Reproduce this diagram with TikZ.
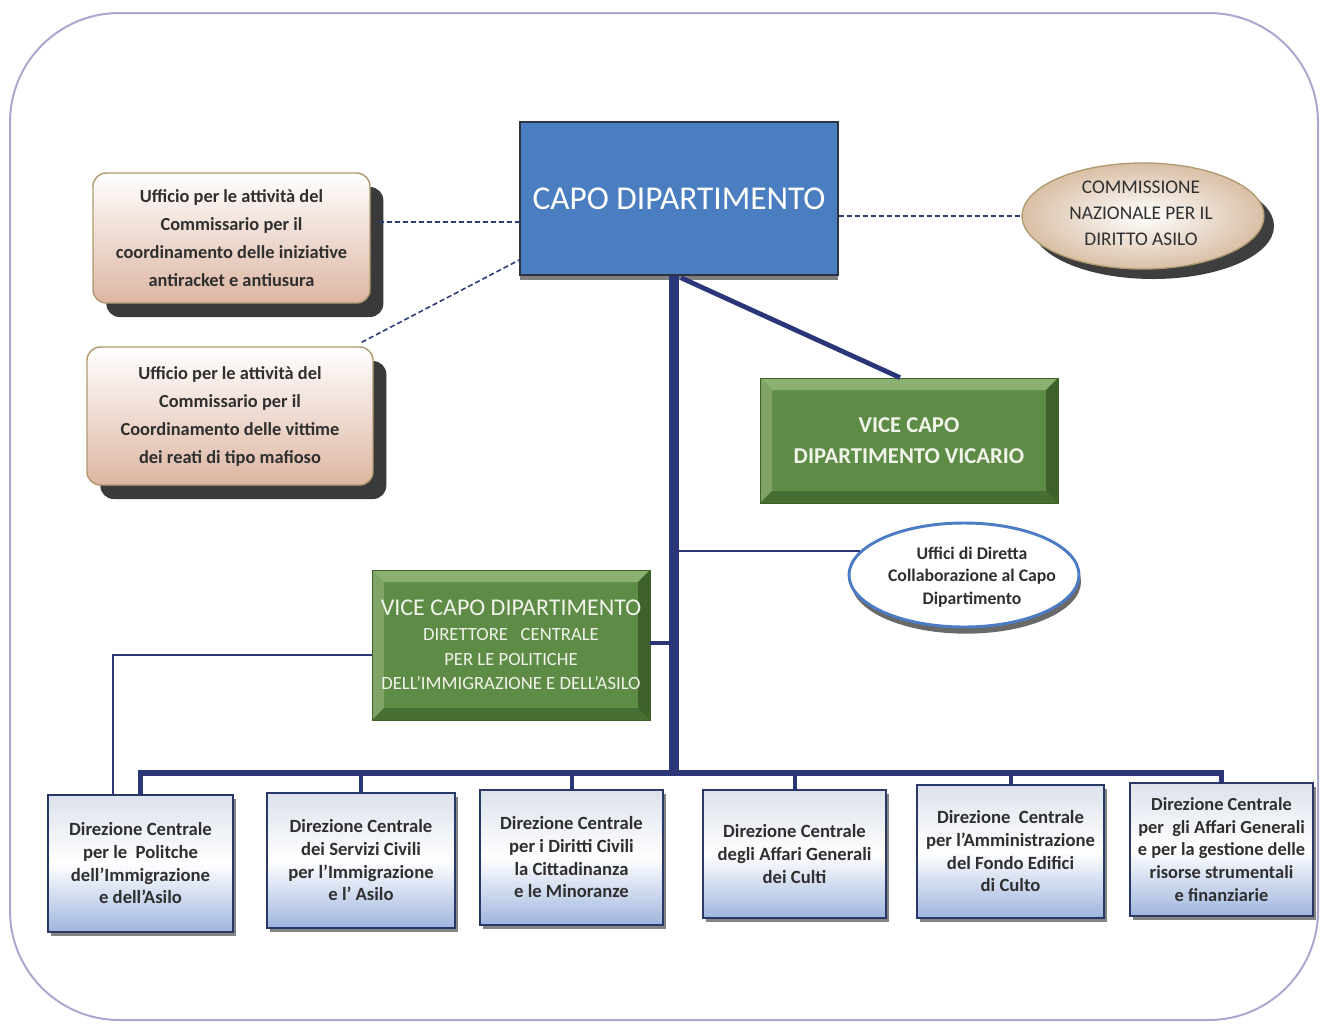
\documentclass[tikz,border=0pt]{standalone}
\usepackage{fontspec}
\setmainfont{Carlito}
\usetikzlibrary{shapes.geometric,shadows,calc}
\definecolor{framec}{HTML}{A9A9CF}
\definecolor{capoblue}{HTML}{4B7EC1}
\definecolor{capob}{HTML}{2D3640}
\definecolor{navy}{HTML}{2A3678}
\definecolor{dashc}{HTML}{2E3C7A}
\definecolor{tanb}{HTML}{B09A70}
\definecolor{peach}{HTML}{DDB6A2}
\definecolor{peachb}{HTML}{D9BFA6}
\definecolor{shad}{HTML}{2A2A2A}
\definecolor{txtc}{HTML}{2F2F2F}
\definecolor{greenc}{HTML}{5E8C46}
\definecolor{glight}{HTML}{8BB072}
\definecolor{gleft}{HTML}{7FA466}
\definecolor{gdark}{HTML}{476F33}
\definecolor{gright}{HTML}{3E6229}
\definecolor{gtext}{HTML}{F0F4EA}
\definecolor{uffb}{HTML}{4C7CC4}
\definecolor{boxb}{HTML}{2A3868}
\definecolor{boxblue}{HTML}{9FB5DE}
\definecolor{boxtop}{HTML}{DCE2EC}
\begin{document}
\begin{tikzpicture}[x=0.75pt,y=-0.75pt,
  sz/.style 2 args={minimum width=#1, minimum height=#2},
  ubox/.style={draw=tanb, line width=1.1pt, rounded corners=10pt, top color=white, bottom color=peach,
    inner sep=0pt, drop shadow={shadow xshift=10pt, shadow yshift=-10.5pt, fill=shad, opacity=0.92},
    text=txtc, align=center, font=\fontsize{13.8}{21}\selectfont\bfseries},
  capobox/.style={fill=capoblue, draw=capob, line width=1.2pt, inner sep=0pt,
    drop shadow={shadow xshift=0pt, shadow yshift=-3.5pt, fill=black!55, opacity=0.9},
    text=white, font=\fontsize{25}{29}\selectfont},
  gbox/.style={fill=greenc, draw=gright, line width=0.6pt, inner sep=0pt, text=gtext, align=center,
    path picture={
      \coordinate (pnw) at (path picture bounding box.north west);
      \coordinate (pne) at (path picture bounding box.north east);
      \coordinate (psw) at (path picture bounding box.south west);
      \coordinate (pse) at (path picture bounding box.south east);
      \fill[glight] (pnw) -- (pne) -- ([shift={(-9pt,-9pt)}]pne) -- ([shift={(9pt,-9pt)}]pnw) -- cycle;
      \fill[gleft] (pnw) -- (psw) -- ([shift={(9pt,9pt)}]psw) -- ([shift={(9pt,-9pt)}]pnw) -- cycle;
      \fill[gdark] (psw) -- (pse) -- ([shift={(-9pt,9pt)}]pse) -- ([shift={(9pt,9pt)}]psw) -- cycle;
      \fill[gright] (pne) -- (pse) -- ([shift={(-9pt,9pt)}]pse) -- ([shift={(-9pt,-9pt)}]pne) -- cycle;
    }},
  dbox/.style={draw=boxb, line width=2pt, top color=boxtop, bottom color=boxblue, middle color=white,
    inner sep=0pt, drop shadow={shadow xshift=2pt, shadow yshift=-3pt, fill=black!60, opacity=0.8},
    text=txtc, align=center, font=\fontsize{14}{17}\selectfont\bfseries},
  commell/.style={ellipse, draw=tanb, line width=1pt, inner color=white, outer color=peachb,
    minimum width=181.5pt, minimum height=79.5pt, inner sep=0pt,
    drop shadow={shadow xshift=7.5pt, shadow yshift=-7.5pt, fill=shad, opacity=0.9}},
  uffell/.style={ellipse, draw=uffb, line width=2.2pt, fill=white,
    minimum width=172.5pt, minimum height=78pt, inner sep=0pt,
    drop shadow={shadow xshift=1.5pt, shadow yshift=-5pt, fill=black!65, opacity=0.9}},
  elltext/.style={text=txtc, align=center},
  dashline/.style={draw=dashc, line width=1.2pt, dash pattern=on 3.8pt off 2.2pt},
  spine/.style={draw=navy, line width=7pt},
  thick conn/.style={draw=navy, line width=3.6pt},
  thin conn/.style={draw=navy, line width=1.2pt},
  bus/.style={draw=navy, line width=4.2pt, line join=miter},
  dropline/.style={draw=navy, line width=3pt}
]
\useasboundingbox (0,0) rectangle (1326,1032);
\fill[white] (0,0) rectangle (1326,1032);
\draw[framec, line width=1.5pt, rounded corners=82pt] (10,13) rectangle (1318,1020);

% top nodes
\node[capobox, sz={238.5pt}{114.75pt}] (capo) at (679,198.5) {CAPO DIPARTIMENTO};
\node[ubox, sz={207.75pt}{97.5pt}] (u1) at (231.5,238)
  {Ufficio per le attività del\\Commissario per il\\coordinamento delle iniziative\\antiracket e antiusura};
\node[ubox, sz={214.5pt}{103.5pt}] (u2) at (230,416)
  {Ufficio per le attività del\\Commissario per il\\Coordinamento delle vittime\\dei reati di tipo mafioso};
\node[commell] (comm) at (1143,216) {};
\node[elltext, font=\fontsize{14.5}{19.5}\selectfont] (commt) at ($(comm.center)+(-2,-3)$)
  {COMMISSIONE\\NAZIONALE PER IL\\DIRITTO ASILO};

% vice capo vicario
\node[gbox, sz={223.5pt}{93.75pt}, font=\fontsize{17}{23.5}\selectfont\bfseries] (vic) at (909,440.5)
  {VICE CAPO\\DIPARTIMENTO VICARIO};

% uffici
\node[uffell] (uff) at (964,575) {};
\node[elltext, font=\fontsize{13.3}{17}\selectfont\bfseries] (ufft) at ($(uff.center)+(8,2)$)
  {Uffici di Diretta\\Collaborazione al Capo\\Dipartimento};

% vice capo dipartimento
\node[gbox, sz={208.5pt}{112.5pt}, font=\fontsize{14}{18.5}\selectfont] (vcd) at (511,645)
  {{\fontsize{18}{20}\selectfont VICE CAPO DIPARTIMENTO}\\DIRETTORE~~ CENTRALE\\PER LE POLITICHE\\DELL'IMMIGRAZIONE E DELL'ASILO};

% bottom boxes
\node[dbox, sz={138.75pt}{102.75pt}] (b1) at (140.5,863.5)
  {Direzione Centrale\\per le~ Politche\\dell'Immigrazione\\e dell'Asilo};
\node[dbox, sz={141pt}{101.25pt}] (b2) at (361,860.5)
  {Direzione Centrale\\dei Servizi Civili\\per l'Immigrazione\\e l' Asilo};
\node[dbox, sz={137.25pt}{101.25pt}] (b3) at (571.5,857.5)
  {Direzione Centrale\\per i Diritti Civili\\la Cittadinanza\\e le Minoranze};
\node[dbox, sz={137.25pt}{96pt}] (b4) at (794.5,854)
  {Direzione Centrale\\degli Affari Generali\\dei Culti};
\node[dbox, sz={140.25pt}{99.75pt}] (b5) at (1010.5,851.5)
  {Direzione~ Centrale\\per l'Amministrazione\\del Fondo Edifici\\di Culto};
\node[dbox, sz={137.25pt}{99.75pt}, font=\fontsize{13.8}{17}\selectfont\bfseries] (b6) at (1221.5,849.5)
  {Direzione Centrale\\per~ gli Affari Generali\\e per la gestione delle\\risorse strumentali\\e finanziarie};

% helper coordinates
\coordinate (bj) at (674,773);
\coordinate (d1) at (0,222);
\coordinate (d2) at (0,260);
\coordinate (d3) at (0,643);
\coordinate (lk) at (113,655);

% dashed connectors
\draw[dashline] ($(u1.east |- d1)+(8,0)$) -- (capo.west |- d1);
\draw[dashline] ($(u2.north east)+(-12,-4)$) -- (capo.west |- d2);
\draw[dashline] (capo.east |- comm.west) -- (comm.west);

% spine and branches
\draw[spine] (capo.south -| bj) -- (bj);
\draw[thick conn] ($(capo.south)+(2,2)$) -- ($(vic.north)+(-9,0)$);
\draw[thin conn] (uff.167 -| bj) -- (uff.167);
\draw[thick conn] (vcd.east |- d3) -- (d3 -| bj);
\draw[thin conn] (vcd.west |- lk) -- (lk) -- (b1.north -| lk);

% bus
\draw[bus] (b1.north) -- (b1.north |- bj) -- (b6.north |- bj) -- (b6.north);
\foreach \b in {b2,b3,b4,b5}
  \draw[dropline] (\b.north |- bj) -- (\b.north);
\end{tikzpicture}
\end{document}
